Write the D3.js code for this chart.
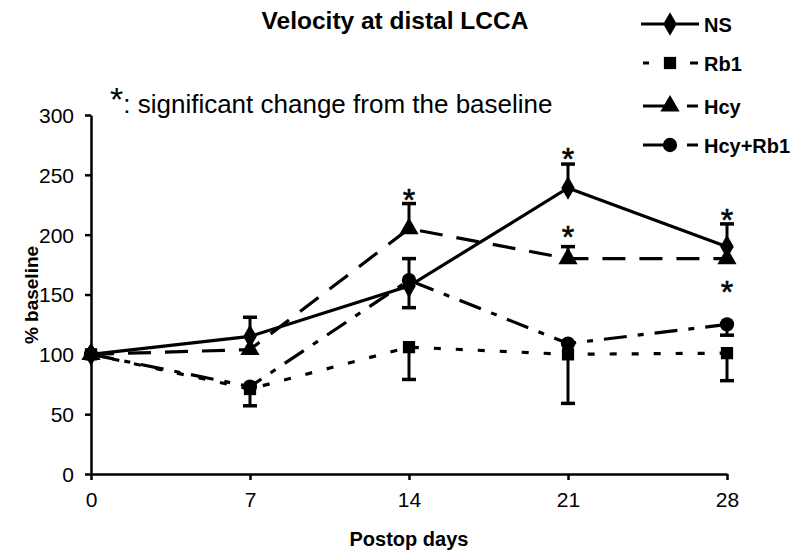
<!DOCTYPE html>
<html><head><meta charset="utf-8">
<script src="https://cdn.jsdelivr.net/npm/d3@7"></script>
<style>body{margin:0;background:#fff}svg{display:block}text{font-family:"Liberation Sans",Arial,sans-serif}</style>
</head><body><svg id="c" width="800" height="558"></svg>
<script>
const days = [0, 7, 14, 21, 28];
const yTicks = [0, 50, 100, 150, 200, 250, 300];
const seriesNames = ["NS", "Rb1", "Hcy", "Hcy+Rb1"];
const nsValues = [100, 115, 157, 239, 190];
const rb1Values = [100, 71, 106, 100, 101];
const hcyValues = [100, 104, 205, 180, 180];
const hcyRb1Values = [100, 73, 162, 109, 125];
// error bars: [series, day, value, end]
const errorBars = [
  ["NS", 7, 115, 131], ["Rb1", 7, 71, 57],
  ["Hcy", 14, 205, 226], ["Hcy+Rb1", 14, 159, 180], ["Hcy+Rb1", 14, 159, 139], ["Rb1", 14, 106, 79],
  ["NS", 21, 239, 259], ["Hcy", 21, 180, 190], ["Hcy+Rb1", 21, 106, 59],
  ["NS", 28, 190, 209], ["Hcy+Rb1", 28, 125, 116], ["Rb1", 28, 101, 78]
];
// significance stars: [day, value at star centre]
const stars = [[14, 235], [21, 269], [21, 204], [28, 218], [28, 158]];

const svg = d3.select("#c");
const x = d3.scaleLinear().domain([0, 28]).range([91, 727]);
const y = d3.scaleLinear().domain([0, 300]).range([474, 115]);

const styles = {
  "NS": {dash: null, sym: d3.symbolDiamond, size: 160},
  "Rb1": {dash: "7,15", sym: d3.symbolSquare, size: 150},
  "Hcy": {dash: "23,14", sym: d3.symbolTriangle, size: 160},
  "Hcy+Rb1": {dash: "23,11,6,11", sym: d3.symbolCircle, size: 160}
};
const vals = {"NS": nsValues, "Rb1": rb1Values, "Hcy": hcyValues, "Hcy+Rb1": hcyRb1Values};

// axes
const gx = svg.append("g").attr("transform", `translate(0,${y(0)})`)
  .call(d3.axisBottom(x).tickValues(days).tickSize(6).tickSizeOuter(0).tickPadding(12));
const gy = svg.append("g").attr("transform", `translate(${x(0)},0)`)
  .call(d3.axisLeft(y).tickValues(yTicks).tickSize(6).tickSizeOuter(0).tickPadding(11));
[gx, gy].forEach(g => {
  g.select(".domain").attr("stroke", "#000").attr("stroke-width", 2.5);
  g.selectAll(".tick line").attr("stroke", "#000").attr("stroke-width", 2.5);
  g.selectAll(".tick text").attr("font-size", 21).attr("fill", "#000")
    .style("font-family", "'Liberation Sans',Arial,sans-serif");
});
gy.selectAll(".tick text").attr("dy", "0.35em");

// error bars
const eb = svg.append("g");
errorBars.forEach(([s, d, v, e]) => {
  eb.append("line").attr("x1", x(d)).attr("x2", x(d)).attr("y1", y(v)).attr("y2", y(e))
    .attr("stroke", "#000").attr("stroke-width", 3);
  eb.append("line").attr("x1", x(d) - 7).attr("x2", x(d) + 7).attr("y1", y(e)).attr("y2", y(e))
    .attr("stroke", "#000").attr("stroke-width", 3.5);
});

// lines
const line = d3.line().x((d, i) => x(days[i])).y(d => y(d));
seriesNames.forEach(n => {
  svg.append("path").attr("d", line(vals[n])).attr("fill", "none").attr("stroke", "#000")
    .attr("stroke-width", 3.2).attr("stroke-dasharray", styles[n].dash);
});
// markers
seriesNames.forEach(n => {
  const st = styles[n];
  svg.append("g").selectAll("path").data(vals[n]).join("path")
    .attr("transform", (d, i) => `translate(${x(days[i])},${y(d)})`)
    .attr("d", d3.symbol().type(st.sym).size(st.size)).attr("fill", "#000");
});

// stars
svg.append("g").selectAll("text").data(stars).join("text")
  .attr("x", d => x(d[0])).attr("y", d => y(d[1]) + 18).attr("text-anchor", "middle")
  .attr("font-size", 32).attr("stroke", "#000").attr("stroke-width", 0.6).text("*");

// title
svg.append("text").attr("x", 395).attr("y", 29).attr("text-anchor", "middle")
  .attr("font-size", 24.5).attr("font-weight", "bold").text("Velocity at distal LCCA");
// annotation
const ann = svg.append("text").attr("x", 110).attr("y", 113).attr("font-size", 26);
ann.append("tspan").attr("font-size", 34).attr("dy", "-2").text("*");
ann.append("tspan").attr("dy", "2").text(": significant change from the baseline");

// axis titles
svg.append("text").attr("x", 409).attr("y", 546).attr("text-anchor", "middle")
  .attr("font-size", 20).attr("font-weight", "bold").text("Postop days");
svg.append("text").attr("transform", "translate(38,295) rotate(-90)").attr("text-anchor", "middle")
  .attr("font-size", 19).attr("font-weight", "bold").text("% baseline");

// legend
const legY = [24, 63, 106, 145];
const lg = svg.append("g");
seriesNames.forEach((n, i) => {
  const st = styles[n];
  const yy = legY[i];
  if (n === "NS") {
    lg.append("line").attr("x1", 641).attr("x2", 699).attr("y1", yy).attr("y2", yy).attr("stroke", "#000").attr("stroke-width", 3);
  } else if (n === "Rb1") {
    lg.append("line").attr("x1", 643).attr("x2", 649).attr("y1", yy).attr("y2", yy).attr("stroke", "#000").attr("stroke-width", 3);
    lg.append("line").attr("x1", 690).attr("x2", 698).attr("y1", yy).attr("y2", yy).attr("stroke", "#000").attr("stroke-width", 3);
  } else {
    lg.append("line").attr("x1", 643).attr("x2", 670).attr("y1", yy).attr("y2", yy).attr("stroke", "#000").attr("stroke-width", 3);
    lg.append("line").attr("x1", 687).attr("x2", 698).attr("y1", yy).attr("y2", yy).attr("stroke", "#000").attr("stroke-width", 3);
  }
  lg.append("path").attr("transform", `translate(670,${yy})`)
    .attr("d", d3.symbol().type(st.sym).size(st.size)).attr("fill", "#000");
  lg.append("text").attr("x", 704).attr("y", yy + 7.5).attr("font-size", 20).attr("font-weight", "bold").text(n);
});
</script></body></html>
